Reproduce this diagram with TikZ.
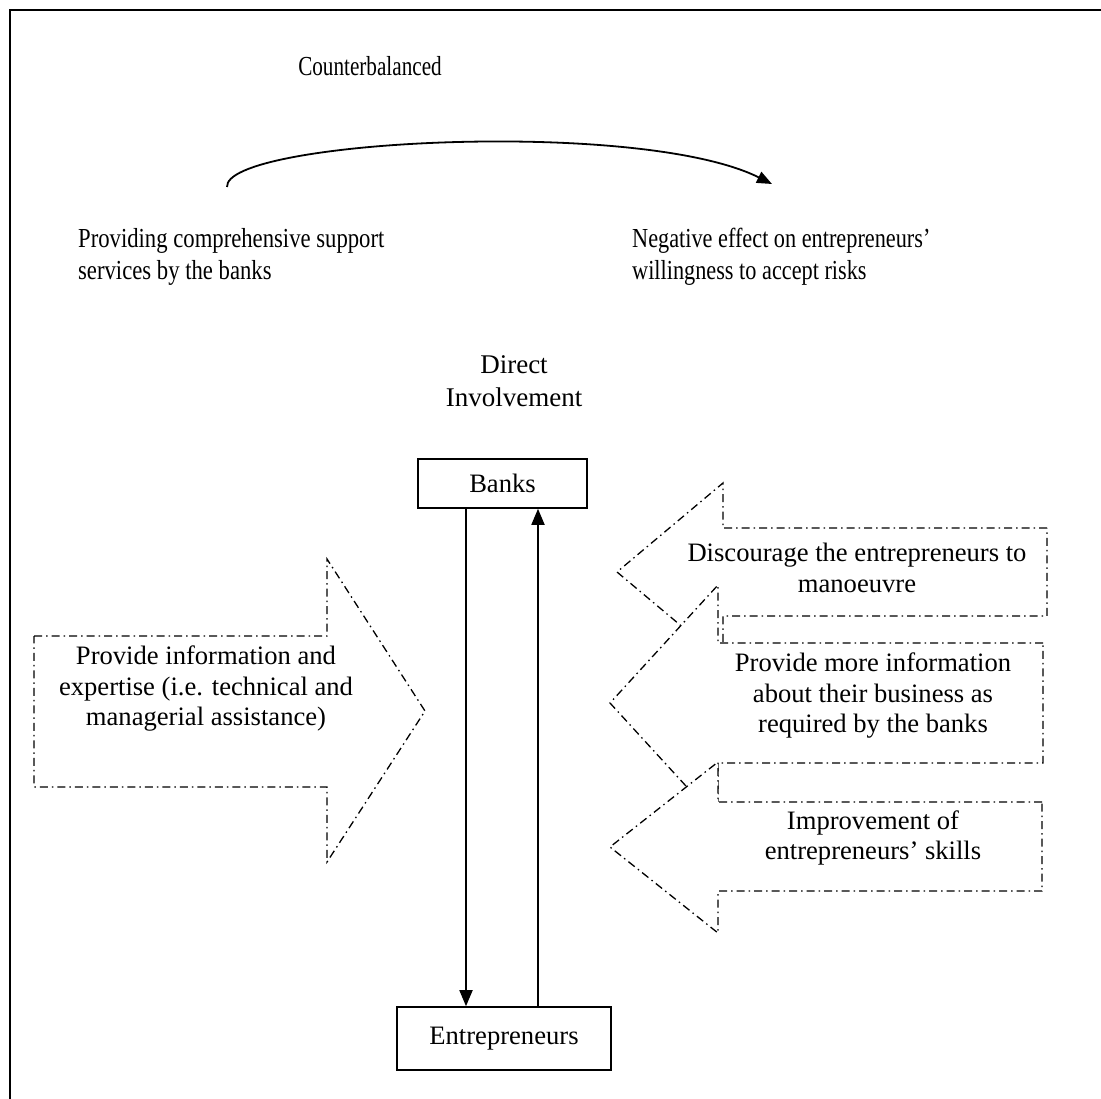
\documentclass[tikz,border=0pt]{standalone}
\usepackage{fontspec}
\setmainfont{Liberation Serif}
\usetikzlibrary{arrows.meta}
\begin{document}
\begin{tikzpicture}[x=1pt,y=-1pt,
  lbl/.style={font=\fontsize{26.6}{30.5}\selectfont, align=center, inner sep=0pt},
  toptxt/.style={font=\fontsize{27.5}{32}\selectfont, align=left, inner sep=0pt},
  box/.style={draw, line width=1.6pt, fill=white, inner sep=0pt, font=\fontsize{26.6}{30.5}\selectfont},
  blockarrow/.style={draw, line width=1.3pt, fill=white, dash pattern=on 8pt off 4pt on 1.5pt off 4pt},
  link/.style={line width=1.8pt, -{Triangle[length=16pt,width=13pt]}}
]
\useasboundingbox (0,0) rectangle (1101,1099);

% frame
\draw[line width=2pt] (10,1099) -- (10,10) -- (1101,10);

% headline texts
\node[toptxt, xscale=0.77, anchor=center] (cb) at (370,66) {Counterbalanced};
\node[toptxt, xscale=0.825, anchor=west] (prov) at (78,257) {Providing comprehensive support\\services by the banks};
\node[toptxt, xscale=0.81, anchor=west] (neg) at (632,257) {Negative effect on entrepreneurs'\\willingness to accept risks};

% curved arrow between the two statements
\coordinate (cs) at (227,187);
\coordinate (ce) at (772,184);
\draw[line width=1.8pt, -{Triangle[length=15pt,width=12pt]}] (cs) .. controls (224,140) and (640,118) .. (ce);

\node[font=\fontsize{27}{33}\selectfont, align=center, inner sep=0pt] (di) at (514,381) {Direct\\Involvement};

% the two parties
\node[box, minimum width=169pt, minimum height=49pt] (banks) at (502.5,483.5) {Banks};
\node[box, minimum width=214pt, minimum height=63pt] (entr) at (504,1038.5) {Entrepreneurs};

\coordinate (xd) at (466,0);
\coordinate (xu) at (538,0);
\draw[link] (banks.south -| xd) -- (entr.north -| xd);
\draw[link] (entr.north -| xu) -- (banks.south -| xu);

% block arrow pointing to the right
\draw[blockarrow] (34,636) -- (327,636) -- (327,559) -- (425,711) -- (327,862) -- (327,787) -- (34,787) -- cycle;
\node[lbl] (info) at (206,689) {Provide information and\\expertise (i.e. technical and\\managerial assistance)};

% block arrows pointing to the left
\draw[blockarrow] (1047,528) -- (723,528) -- (723,483) -- (617,572) -- (723,661) -- (723,616) -- (1047,616) -- cycle;
\node[lbl] (disc) at (857,568) {Discourage the entrepreneurs to\\manoeuvre};

\draw[blockarrow] (1043,643) -- (718,643) -- (718,585) -- (610,703) -- (718,821) -- (718,763) -- (1043,763) -- cycle;
\node[lbl] (more) at (873,696) {Provide more information\\about their business as\\required by the banks};

\draw[blockarrow] (1042,802) -- (718,802) -- (718,762) -- (610,847) -- (718,933) -- (718,891) -- (1042,891) -- cycle;
\node[lbl] (skill) at (873,838) {Improvement of\\entrepreneurs' skills};
\end{tikzpicture}
\end{document}
